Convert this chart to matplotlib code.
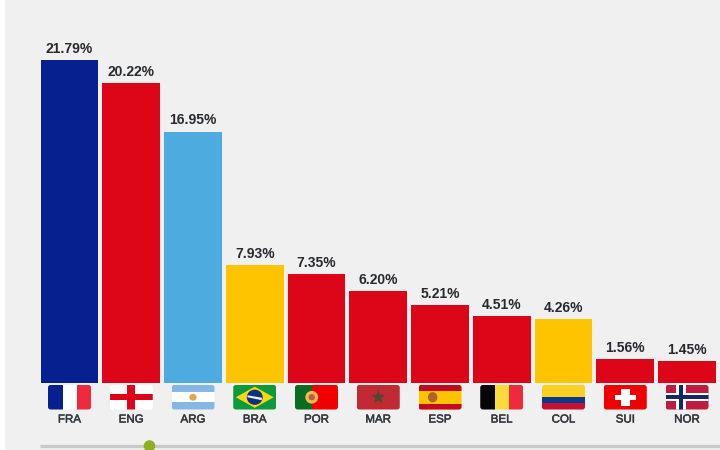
import numpy as np
import matplotlib
matplotlib.use("Agg")
import matplotlib.pyplot as plt
import matplotlib.patheffects as pe
from matplotlib.patches import Rectangle, FancyBboxPatch, Circle, Ellipse, Polygon

plt.rcParams['font.family'] = ['Liberation Sans', 'DejaVu Sans']

teams = ["FRA", "ENG", "ARG", "BRA", "POR", "MAR", "ESP", "BEL", "COL", "SUI", "NOR"]
shares = [21.79, 20.22, 16.95, 7.93, 7.35, 6.20, 5.21, 4.51, 4.26, 1.56, 1.45]
bar_colors = ["#06208f", "#dd0518", "#4dabe0", "#fec400", "#dd0518", "#dd0518",
              "#dd0518", "#dd0518", "#fec400", "#dd0518", "#dd0518"]

W, H = 720, 450
PANEL = "#f0f0f0"
fig = plt.figure(figsize=(W / 100, H / 100), dpi=100, facecolor="white")


def px_axes(x0, y0, x1, y1, **kw):
    """Axes placed by pixel edges, with y counted from the top of the figure."""
    return fig.add_axes([x0 / W, 1 - y1 / H, (x1 - x0) / W, (y1 - y0) / H], **kw)


# Grey panel and slider track
bg = px_axes(0, 0, W, H)
bg.set_xlim(0, W)
bg.set_ylim(H, 0)
bg.axis("off")
bg.add_patch(Rectangle((5, 0), W - 5, H, color=PANEL, lw=0))
bg.plot([40, W], [446, 446], color="#c9c9c9", lw=2.4, solid_capstyle="butt")
bg.add_patch(Circle((149.5, 446), 5.8, color="#8fb021", lw=0, zorder=3))

# Bars
base_y = 382.5
scale = (base_y - 60) / shares[0]
left, pitch = 69.6 - 61.75 / 2, 61.75
ax = px_axes(left, 0, left + pitch * len(teams), base_y)
ax.patch.set_alpha(0)
ax.set_xlim(-0.5, len(teams) - 0.5)
ax.set_ylim(0, base_y / scale)
ax.axis("off")
xs = np.arange(len(teams))
ax.bar(xs, shares, width=0.935, color=bar_colors, lw=0)
for x, v in zip(xs, shares):
    ax.annotate(f"{v:.2f}%", (x, v), xytext=(0, 3), textcoords="offset points",
                ha="center", va="bottom", fontsize=10, fontweight="bold", color="#262a2e")


# Flag painters draw in a unit square, y pointing down
def rects(a, items):
    for x, y, w, h, c in items:
        a.add_patch(Rectangle((x, y), w, h, color=c, lw=0))


def star(a, cx, cy, rx, ry, color):
    ang = np.deg2rad(np.arange(10) * 36 - 90)
    rad = np.where(np.arange(10) % 2 == 0, 1.0, 0.42)
    pts = np.c_[cx + rx * rad * np.cos(ang), cy + ry * rad * np.sin(ang)]
    a.add_patch(Polygon(pts, color=color, lw=0))


def fra(a):
    rects(a, [(0, 0, .34, 1, "#06208f"), (.34, 0, .33, 1, "#ffffff"), (.67, 0, .33, 1, "#ee2a3c")])


def eng(a):
    rects(a, [(0, 0, 1, 1, "#ffffff"), (.41, 0, .18, 1, "#dd0518"), (0, .37, 1, .26, "#dd0518")])


def arg(a):
    rects(a, [(0, 0, 1, 1, "#ffffff"), (0, 0, 1, .3, "#86b6e2"), (0, .7, 1, .3, "#86b6e2")])
    a.add_patch(Ellipse((.5, .5), .17, .28, color="#e0a84a", lw=0))


def bra(a):
    rects(a, [(0, 0, 1, 1, "#0b9a3c")])
    a.add_patch(Polygon([(.5, .07), (.94, .5), (.5, .93), (.06, .5)], color="#f9d616", lw=0))
    a.add_patch(Ellipse((.5, .5), .37, .62, color="#0f2f7f", lw=0))
    a.add_patch(Polygon([(.33, .42), (.67, .52), (.66, .62), (.33, .5)], color="#e8eef0", lw=0))


def por(a):
    rects(a, [(0, 0, .4, 1, "#0a6b22"), (.4, 0, .6, 1, "#f00000")])
    a.add_patch(Ellipse((.39, .5), .3, .52, color="#e8c04a", lw=0))
    a.add_patch(Ellipse((.39, .5), .15, .26, color="#c8554a", lw=0))


def mar(a):
    rects(a, [(0, 0, 1, 1, "#c22a33")])
    star(a, .5, .5, .17, .3, "#4a4a2e")


def esp(a):
    rects(a, [(0, 0, 1, 1, "#fcc400"), (0, 0, 1, .24, "#c4091c"), (0, .76, 1, .24, "#c4091c")])
    a.add_patch(Ellipse((.33, .5), .22, .42, color="#b4602a", lw=0))


def bel(a):
    rects(a, [(0, 0, .34, 1, "#060606"), (.34, 0, .33, 1, "#fbdb3c"), (.67, 0, .33, 1, "#ee2a3c")])


def col(a):
    rects(a, [(0, 0, 1, .5, "#fcd020"), (0, .5, 1, .25, "#0a3a8f"), (0, .75, 1, .25, "#c8102e")])


def sui(a):
    rects(a, [(0, 0, 1, 1, "#f00000"), (.4, .16, .2, .68, "#ffffff"), (.26, .39, .48, .22, "#ffffff")])


def nor(a):
    rects(a, [(0, 0, 1, 1, "#bf1d3f"), (.25, 0, .22, 1, "#ffffff"), (0, .34, 1, .32, "#ffffff"),
              (.31, 0, .1, 1, "#102a66"), (0, .42, 1, .16, "#102a66")])


painters = dict(FRA=fra, ENG=eng, ARG=arg, BRA=bra, POR=por, MAR=mar,
                ESP=esp, BEL=bel, COL=col, SUI=sui, NOR=nor)

# Flags with rounded corners and team codes under each bar
for i, t in enumerate(teams):
    cx = 69.5 + pitch * i
    fa = px_axes(cx - 21.5, 385, cx + 21.5, 409.5)
    fa.set_xlim(0, 1)
    fa.set_ylim(1, 0)
    fa.axis("off")
    painters[t](fa)
    clip = FancyBboxPatch((0, 0), 1, 1, boxstyle="round,pad=0,rounding_size=0.06",
                          mutation_aspect=43 / 24.5, transform=fa.transData, fc="none", ec="none")
    fa.add_patch(clip)
    for p in fa.patches:
        if p is not clip:
            p.set_clip_path(clip)
    bg.text(cx, 419.5, t, ha="center", va="center", fontsize=8.3, color="#33383d",
            path_effects=[pe.withStroke(linewidth=0.35, foreground="#33383d")])

fig.savefig("out.png", dpi=100, facecolor=fig.get_facecolor())
